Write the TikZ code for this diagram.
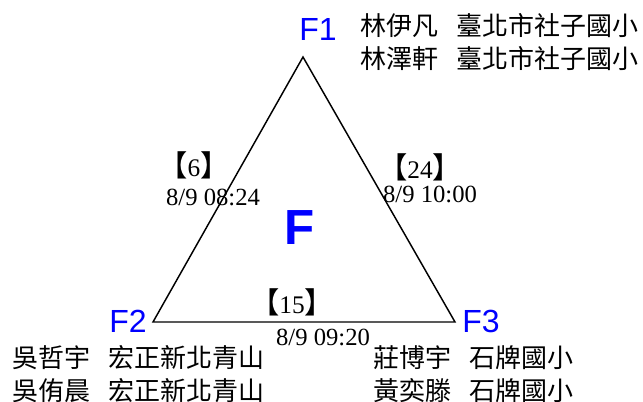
\documentclass[tikz,border=0pt]{standalone}
\usepackage{fontspec}
\setmainfont{Liberation Serif}
\newfontfamily\cjk{Noto Sans CJK TC}
\newfontfamily\arialf{Liberation Sans}
\usetikzlibrary{positioning}

\newcommand{\gamebr}[1]{{\cjk\fontsize{22}{22}\selectfont 【}#1{\cjk\fontsize{22}{22}\selectfont 】}}

\begin{document}
\begin{tikzpicture}[x=0.75pt,y=-0.75pt,
  vtx/.style={text=blue,inner sep=0pt,font=\arialf\fontsize{24}{24}\selectfont},
  team/.style={anchor=west,inner sep=0pt,align=left,font=\cjk\fontsize{19.5}{24.5}\selectfont},
  games/.style={inner sep=0pt,font=\fontsize{19}{19}\selectfont},
  stamp/.style={inner sep=0pt,font=\fontsize{18.5}{18.5}\selectfont}]
\useasboundingbox (0,0) rectangle (643,402);

% Triangle
\coordinate (v1) at (303,57);
\coordinate (v2) at (153,322);
\coordinate (v3) at (455,322);
\draw[line width=1.1pt,line join=miter] (v1) -- (v2) -- (v3) -- cycle;

% Group labels
\node[vtx] (f1) at (318,29) {F1};
\node[vtx] (f2) at (128,321) {F2};
\node[vtx] (f3) at (481,321) {F3};
\node[text=blue,font=\arialf\bfseries\fontsize{37}{37}\selectfont] (grp) at (300,228) {F};

% Teams
\node[team] (t1) at (360,42) {林伊凡\hspace{0.7em}臺北市社子國小\\林澤軒\hspace{0.7em}臺北市社子國小};
\node[team] (t2) at (12,374) {吳哲宇\hspace{0.7em}宏正新北青山\\吳侑晨\hspace{0.7em}宏正新北青山};
\node[team] (t3) at (373,374) {莊博宇\hspace{0.7em}石牌國小\\黃奕滕\hspace{0.7em}石牌國小};

% Games and times
\node[games] (g12) at (194,165) {\gamebr{6}};
\node[stamp] (d12) at (213,197) {8/9 08:24};
\node[games] (g13) at (420,167) {\gamebr{24}};
\node[stamp] (d13) at (430,194) {8/9 10:00};
\node[games] (g23) at (292,302) {\gamebr{15}};
\node[stamp] (d23) at (323,337) {8/9 09:20};
\end{tikzpicture}
\end{document}
